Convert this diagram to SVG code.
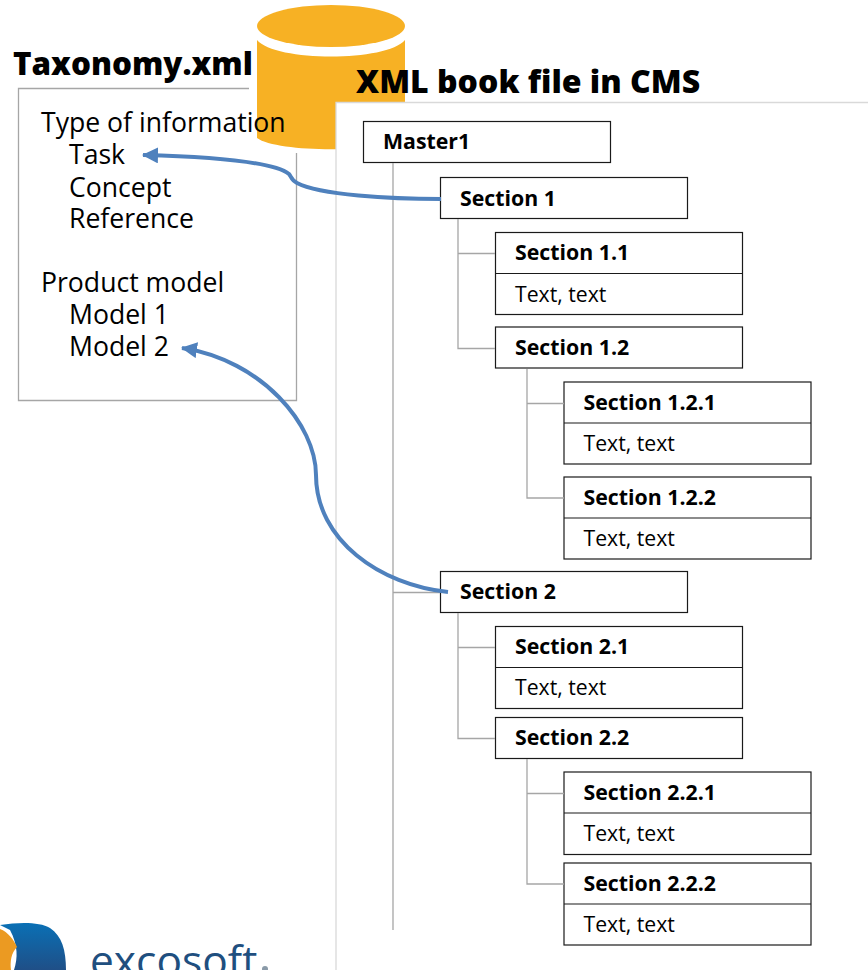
<svg xmlns="http://www.w3.org/2000/svg" width="868" height="970" viewBox="0 0 868 970">
<defs>
<style>
text{font-family:"Open Sans","Liberation Sans",sans-serif;fill:#000}
.h1{font-size:31.400px;font-weight:800}
.h2{font-size:32px;font-weight:800}
.t{font-size:26.600px}
.b{font-size:21.300px;font-weight:700}
.n{font-size:21.200px}
.box{fill:#fff;stroke:#1a1a1a;stroke-width:1.200}
.tree{fill:none;stroke:#a6a6a6;stroke-width:1.300}
.link{fill:none;stroke:#4f81bd;stroke-width:4}
</style>
<marker id="arr" markerUnits="userSpaceOnUse" markerWidth="18" markerHeight="18" refX="15" refY="8" orient="auto"><path d="M0 0L16 8L0 16Z" fill="#4f81bd"/></marker>
<linearGradient id="lg" x1="0" y1="0" x2="0" y2="1"><stop offset="0" stop-color="#0a70b5"/><stop offset="1" stop-color="#1f4f87"/></linearGradient>
</defs>
<g id="taxonomy-panel"><path d="M249 88.500H18.500V400.500H296.500V153" fill="#fff" stroke="#a6a6a6" stroke-width="1.300"/></g>
<g id="database">
<path d="M257 40C275 62 387 62 405 40V138C385 153 277 153 257 138Z" fill="#f7b124"/>
<ellipse cx="331" cy="26" rx="74" ry="21" fill="#f7b124"/>
</g>
<g id="cms-panel"><path d="M336 976V102.500H876V976Z" fill="#fff" stroke="#d9d9d9" stroke-width="1.300"/></g>
<g id="taxonomy-text">
<text class="h1" x="13" y="75">Taxonomy.xml</text>
<text class="t" x="41" y="132">Type of information</text>
<text class="t" x="69" y="164">Task</text>
<text class="t" x="69" y="197">Concept</text>
<text class="t" x="69" y="228">Reference</text>
<text class="t" x="41" y="292">Product model</text>
<text class="t" x="69" y="324">Model 1</text>
<text class="t" x="69" y="356">Model 2</text>
</g>
<text class="h2" x="356" y="93">XML book file in CMS</text>
<g id="master1"><rect class="box" x="363.500" y="121.500" width="247" height="41"/><text class="b" x="383" y="149">Master1</text></g>
<g id="s1"><rect class="box" x="440.500" y="177.500" width="247" height="41"/><text class="b" x="460" y="206">Section 1</text></g>
<g id="s11"><rect class="box" x="495.500" y="232.500" width="247" height="82"/><path class="box" d="M495.500 273.500H742.500"/><text class="b" x="515" y="260">Section 1.1</text><text class="n" x="515" y="302">Text, text</text></g>
<g id="s12"><rect class="box" x="495.500" y="327" width="247" height="41"/><text class="b" x="515" y="355">Section 1.2</text></g>
<g id="s121"><rect class="box" x="564" y="382" width="247" height="82"/><path class="box" d="M564 423H811"/><text class="b" x="583.500" y="410">Section 1.2.1</text><text class="n" x="583.500" y="451">Text, text</text></g>
<g id="s122"><rect class="box" x="564" y="477" width="247" height="82"/><path class="box" d="M564 518H811"/><text class="b" x="583.500" y="505">Section 1.2.2</text><text class="n" x="583.500" y="546">Text, text</text></g>
<g id="s2"><rect class="box" x="440.500" y="571.500" width="247" height="41"/><text class="b" x="460" y="599">Section 2</text></g>
<g id="s21"><rect class="box" x="495.500" y="626.500" width="247" height="82"/><path class="box" d="M495.500 667.500H742.500"/><text class="b" x="515" y="654">Section 2.1</text><text class="n" x="515" y="695">Text, text</text></g>
<g id="s22"><rect class="box" x="495.500" y="717.500" width="247" height="41"/><text class="b" x="515" y="745">Section 2.2</text></g>
<g id="s221"><rect class="box" x="564" y="772" width="247" height="82.500"/><path class="box" d="M564 813H811"/><text class="b" x="583.500" y="800">Section 2.2.1</text><text class="n" x="583.500" y="841">Text, text</text></g>
<g id="s222"><rect class="box" x="564" y="863" width="247" height="82"/><path class="box" d="M564 904H811"/><text class="b" x="583.500" y="891">Section 2.2.2</text><text class="n" x="583.500" y="932">Text, text</text></g>
<g id="connectors">
<path class="tree" d="M393 163V930M393 592.500H440M458 219V348.500H495M458 253.500H495M527 369V498H564M527 403.500H564M458 613V738.500H495M458 647.500H495M527 759V884H564M527 793.500H564"/>
<path class="link" marker-end="url(#arr)" d="M441 199C390 199 320 195 297 183C291 180 291 176 289 174C275 163 220 157 143 155"/>
<path class="link" marker-end="url(#arr)" d="M448 592C380 585 316 540 316 475C316 425 262 360 182 348"/>
</g>
<g id="logo">
<path d="M0 925C20 922 40 922 50 928C62 936 66 950 66 970H14C18 958 18 945 10 930Z" fill="url(#lg)"/>
<path d="M0 929C8 932 14 940 17 947C11 953 10 962 11 970H0Z" fill="#eb9a22"/>
<text x="90" y="976" style="font-family:'Open Sans','Liberation Sans',sans-serif;font-size:42.500px;fill:#1f4f7f">excosoft</text>
<circle cx="265" cy="969" r="3" fill="#8a9aa8"/>
</g>
</svg>
